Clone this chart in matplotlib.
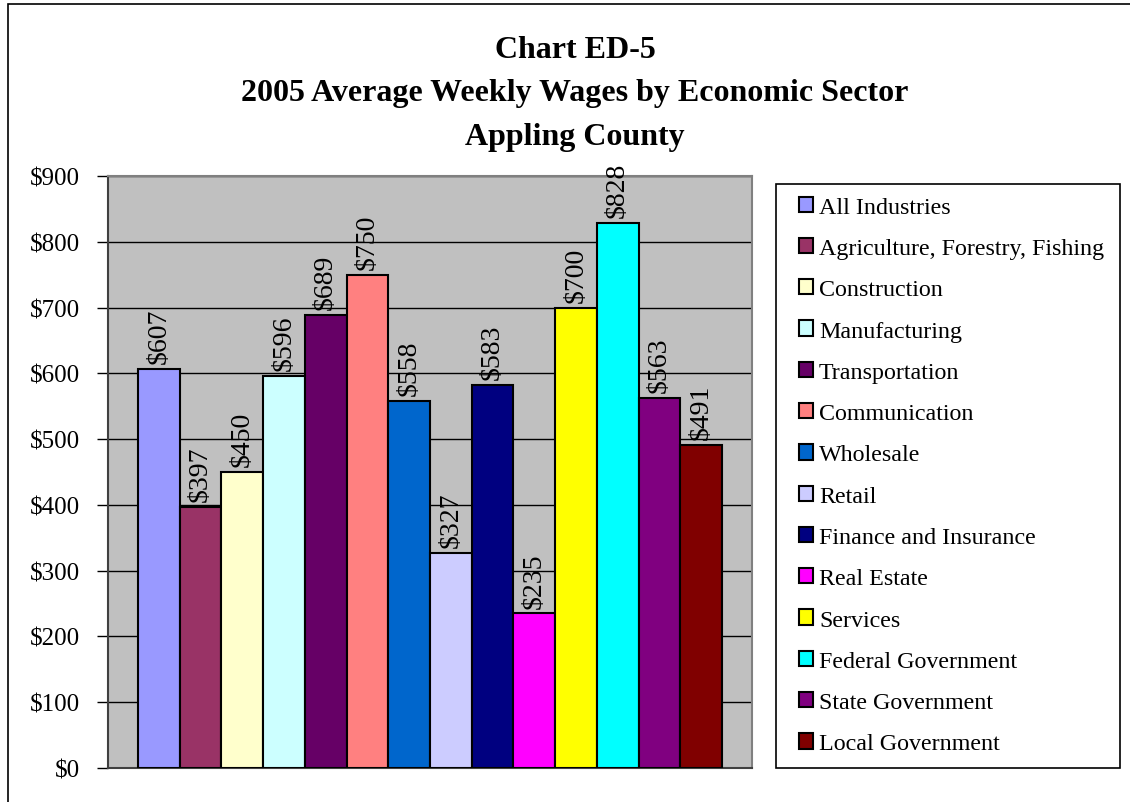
import matplotlib
matplotlib.use("Agg")
import matplotlib.patches as patches
from matplotlib import pyplot as plt
from matplotlib.ticker import FuncFormatter, MultipleLocator

sectors = [
    "All Industries",
    "Agriculture, Forestry, Fishing",
    "Construction",
    "Manufacturing",
    "Transportation",
    "Communication",
    "Wholesale",
    "Retail",
    "Finance and Insurance",
    "Real Estate",
    "Services",
    "Federal Government",
    "State Government",
    "Local Government",
]
wages = [607, 397, 450, 596, 689, 750, 558, 327, 583, 235, 700, 828, 563, 491]
colors = [
    "#9999FF", "#993366", "#FFFFCC", "#CCFFFF", "#660066", "#FF8080", "#0066CC",
    "#CCCCFF", "#000080", "#FF00FF", "#FFFF00", "#00FFFF", "#800080", "#800000",
]
title_lines = [
    "Chart ED-5",
    "2005 Average Weekly Wages by Economic Sector",
    "Appling County",
]

W, H = 1130, 803
plt.rcParams["font.family"] = ["Liberation Serif", "DejaVu Serif"]

fig = plt.figure(figsize=(W / 100, H / 100), dpi=100)
fig.patch.set_facecolor("white")

# outer chart border (right/bottom edges run off the page)
fig.patches.append(
    patches.Rectangle(
        (8 / W, -0.1), 1.2, 1.1 - 5 / H,
        transform=fig.transFigure, fill=False, edgecolor="black", linewidth=1.2,
    )
)

ax = fig.add_axes([108 / W, 1 - 769 / H, (752 - 108) / W, (769 - 177) / H])
ax.set_facecolor("#C0C0C0")

x = list(range(len(wages)))
ax.bar(x, wages, width=1.0, color=colors, edgecolor="black", linewidth=1.5, zorder=3)
for xi, v in zip(x, wages):
    ax.text(xi, v + 9, f"${v}", rotation=90, ha="center", va="bottom",
            fontsize=20, zorder=4)

ax.set_ylim(0, 900)
ax.set_xlim(-1.22, len(wages) - 1 + 1.22)
ax.yaxis.set_major_locator(MultipleLocator(100))
ax.yaxis.set_major_formatter(FuncFormatter(lambda v, _: f"${v:.0f}"))
ax.tick_params(axis="y", direction="out", length=8, width=1, labelsize=18, pad=12)
ax.set_xticks([])
ax.grid(axis="y", color="black", linewidth=1, zorder=1)
ax.set_axisbelow(True)
for side in ("top", "right"):
    ax.spines[side].set_color("#808080")
    ax.spines[side].set_linewidth(1.5)
for side in ("left", "bottom"):
    ax.spines[side].set_color("#404040")
    ax.spines[side].set_linewidth(1.5)

for i, line in enumerate(title_lines):
    fig.text(575 / W, 1 - (50 + i * 43.5) / H, line, ha="center", va="center",
             fontsize=23, fontweight="bold")

# legend
handles = [patches.Patch(facecolor=c, edgecolor="black", linewidth=1.5) for c in colors]
fig.patches.append(
    patches.Rectangle(
        (776 / W, 1 - 769 / H), (1120 - 776) / W, (769 - 185) / H,
        transform=fig.transFigure, fill=False, edgecolor="black", linewidth=1.2,
    )
)
fig.legend(handles, sectors, loc="upper left", bbox_to_anchor=(789 / W, 1 - 188 / H),
           frameon=False, fontsize=17.3, labelspacing=0.84, handlelength=0.6,
           handleheight=0.6, handletextpad=0.25, borderaxespad=0)

fig.savefig("out.png", dpi=100)
